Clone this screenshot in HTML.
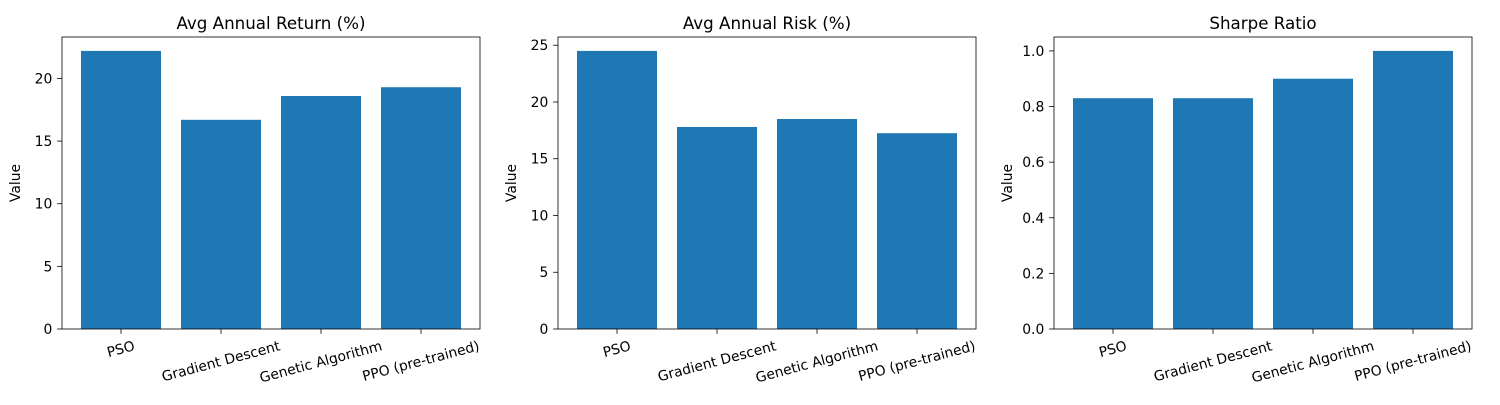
<!DOCTYPE html>
<html><head><meta charset="utf-8">
<style>
body{margin:0;background:#fff;font-family:"Liberation Sans","DejaVu Sans",sans-serif;}
svg text{font-family:"DejaVu Sans","Liberation Sans",sans-serif;}
</style></head>
<body>
<svg id="chart" width="1500" height="400" xmlns="http://www.w3.org/2000/svg"></svg>
<script>
const categories = ["PSO","Gradient Descent","Genetic Algorithm","PPO (pre-trained)"];
const returnValues = [22.2, 16.7, 18.6, 19.3];
const riskValues = [24.5, 17.8, 18.5, 17.25];
const sharpeValues = [0.83, 0.83, 0.90, 1.0];
const titles = ["Avg Annual Return (%)","Avg Annual Risk (%)","Sharpe Ratio"];
const returnTicks = [0,5,10,15,20];
const riskTicks = [0,5,10,15,20,25];
const sharpeTicks = [0,0.2,0.4,0.6,0.8,1.0];

const svgEl = document.getElementById('chart');
const NS = "http://www.w3.org/2000/svg";
function mk(tag, attrs, parent){const e=document.createElementNS(NS,tag);for(const k in attrs)e.setAttribute(k,attrs[k]);(parent||svgEl).appendChild(e);return e;}

const panels = [
 {x0:62, vals:returnValues, ticks:returnTicks, dec:0, name:'return'},
 {x0:558, vals:riskValues, ticks:riskTicks, dec:0, name:'risk'},
 {x0:1054, vals:sharpeValues, ticks:sharpeTicks, dec:1, name:'sharpe'}
];
const plotTop=37, plotBottom=329, plotW=418;
const FS=13.9;
panels.forEach((p,pi)=>{
  const g=mk('g',{});
  
  
  const ymax=Math.max(...p.vals)*1.05;
  const ys=v=>plotBottom-(v/ymax)*(plotBottom-plotTop);
  const xs=v=>p.x0+(v+0.59)/4.18*plotW;
  p.vals.forEach((v,i)=>{
    const r=mk('rect',{x:xs(i-0.4),y:ys(v),width:xs(0.4)-xs(-0.4),height:plotBottom-ys(v),fill:'#1f77b4'},g);
    
    
  });
  mk('rect',{x:p.x0,y:plotTop,width:plotW,height:plotBottom-plotTop,fill:'none',stroke:'#000','stroke-width':0.8},g);
  p.ticks.forEach(t=>{
    const y=ys(t);
    mk('line',{x1:p.x0-4.9,x2:p.x0,y1:y,y2:y,stroke:'#000','stroke-width':0.8},g);
    const tx=mk('text',{x:p.x0-9.7,y:y+5,'font-size':FS,'text-anchor':'end',fill:'#000'},g);
    tx.textContent=t.toFixed(p.dec);
    
    
  });
  categories.forEach((c,i)=>{
    const x=xs(i);
    mk('line',{x1:x,x2:x,y1:plotBottom,y2:plotBottom+4.9,stroke:'#000','stroke-width':0.8},g);
    const tx=mk('text',{x:0,y:0,'font-size':FS,'text-anchor':'middle','dominant-baseline':'central',fill:'#000'},g);
    tx.textContent=c;
    const W=tx.getComputedTextLength();
    const H=FS*1.1;
    const bh=W*Math.sin(15*Math.PI/180)+H*Math.cos(15*Math.PI/180);
    const cy=plotBottom+9.7+bh/2;
    tx.setAttribute('transform',`translate(${x},${cy}) rotate(-15)`);
    
    
  });
  const tt=mk('text',{x:p.x0+plotW/2,y:29,'font-size':16.7,'text-anchor':'middle',fill:'#000'},g);
  tt.textContent=titles[pi];
  
  
  const yl=mk('text',{x:0,y:0,'font-size':FS,'text-anchor':'middle',fill:'#000',transform:`translate(${p.x0-42},${(plotTop+plotBottom)/2}) rotate(-90)`},g);
  yl.textContent='Value';
  
  
});
</script>
</body></html>
